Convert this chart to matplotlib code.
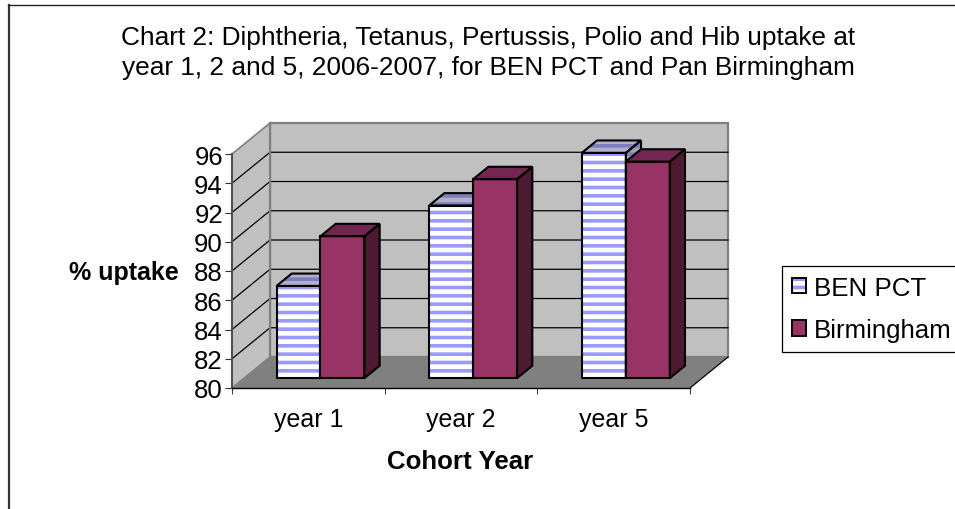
import matplotlib
matplotlib.use('Agg')
import matplotlib.pyplot as plt
from matplotlib.legend_handler import HandlerTuple
from matplotlib.lines import Line2D
from matplotlib.patches import Patch, Polygon

plt.rcParams['font.family'] = ['Liberation Sans', 'DejaVu Sans']
plt.rcParams['hatch.linewidth'] = 2.6

title = 'Chart 2: Diphtheria, Tetanus, Pertussis, Polio and Hib uptake at\nyear 1, 2 and 5, 2006-2007, for BEN PCT and Pan Birmingham'
years = ['year 1', 'year 2', 'year 5']
ben_pct = [86.3, 91.8, 95.4]
birmingham = [89.7, 93.6, 94.8]
y_ticks = [80, 82, 84, 86, 88, 90, 92, 94, 96]

W, H = 955, 510
fig = plt.figure(figsize=(W / 100, H / 100), dpi=100)
# axes = front plane of the fake 3d box, in pixels of the reference
ax = fig.add_axes([232 / W, 1 - 389 / H, 458 / W, 234 / H])
ax.set_xlim(0, 3)
ax.set_ylim(80, 96)
ax.patch.set_visible(False)

# depth of the box, in data units
depth_x = 38 / 152.67
depth_y = 31 / 14.63
# bars sit a bit behind the front plane
off_x = 0.32 * depth_x
off_y = 0.32 * depth_y
bar_dx = 0.40 * depth_x
bar_dy = 0.40 * depth_y
bar_w = 0.288

ymin, ymax = y_ticks[0], y_ticks[-1]
ax.add_patch(Polygon([(depth_x, ymin + depth_y), (3 + depth_x, ymin + depth_y),
                      (3 + depth_x, ymax + depth_y), (depth_x, ymax + depth_y)],
                     fc='#C0C0C0', ec='#808080', lw=1.6, clip_on=False, zorder=1))
ax.add_patch(Polygon([(0, ymin), (0, ymax), (depth_x, ymax + depth_y), (depth_x, ymin + depth_y)],
                     fc='#C0C0C0', ec='#808080', lw=1.2, clip_on=False, zorder=1))
ax.add_patch(Polygon([(0, ymin), (3, ymin), (3 + depth_x, ymin + depth_y), (depth_x, ymin + depth_y)],
                     fc='#808080', ec='none', clip_on=False, zorder=1.5))
ax.plot([3, 3 + depth_x], [ymin, ymin + depth_y], color='black', lw=0.9, clip_on=False, zorder=1.6)

# gridlines: back wall and side wall
for v in y_ticks[1:-1]:
    ax.plot([0, depth_x, 3 + depth_x], [v, v + depth_y, v + depth_y], color='black', lw=0.9,
            clip_on=False, zorder=1.2)
ax.plot([depth_x, depth_x], [ymin + depth_y, ymax + depth_y], color='#808080', lw=1.6,
        clip_on=False, zorder=1.3)


def draw_bar(x, v, z, face, top, side, hatch_col=None, top_hatch=None):
    # x is the left edge of the front face
    base = ymin + off_y
    vtop = v + off_y
    if hatch_col:
        ax.bar(x, v - ymin, bar_w, bottom=base, align='edge', facecolor=face, edgecolor=hatch_col,
               hatch='--', linewidth=0, clip_on=False, zorder=z)
    else:
        ax.bar(x, v - ymin, bar_w, bottom=base, align='edge', facecolor=face, linewidth=0,
               clip_on=False, zorder=z)
    ax.bar(x, v - ymin, bar_w, bottom=base, align='edge', fill=False, edgecolor='black',
           linewidth=1.5, clip_on=False, zorder=z + 0.1)
    top_pts = [(x, vtop), (x + bar_w, vtop), (x + bar_w + bar_dx, vtop + bar_dy), (x + bar_dx, vtop + bar_dy)]
    side_pts = [(x + bar_w, base), (x + bar_w + bar_dx, base + bar_dy),
                (x + bar_w + bar_dx, vtop + bar_dy), (x + bar_w, vtop)]
    for pts, col in ((top_pts, top), (side_pts, side)):
        if top_hatch:
            ax.add_patch(Polygon(pts, fc=col, ec=top_hatch, hatch='--', lw=0, clip_on=False, zorder=z))
        else:
            ax.add_patch(Polygon(pts, fc=col, lw=0, clip_on=False, zorder=z))
        ax.add_patch(Polygon(pts, fill=False, ec='black', lw=1.5, clip_on=False, zorder=z + 0.1))


for i in range(len(years)):
    left = i + 0.5 + off_x - bar_w
    draw_bar(left, ben_pct[i], 3, 'white', '#B0B0C8', '#A0A0B8', hatch_col='#9999FF', top_hatch='#7C7CC0')
    draw_bar(left + bar_w, birmingham[i], 3.2, '#993366', '#732650', '#4D1933')

for s in ['top', 'right']:
    ax.spines[s].set_visible(False)
ax.spines['left'].set_color('#505050')
ax.spines['left'].set_linewidth(1.5)
ax.spines['bottom'].set_color('black')
ax.spines['bottom'].set_linewidth(1.0)
ax.spines['left'].set_zorder(5)
ax.spines['bottom'].set_zorder(5)

ax.set_yticks(y_ticks)
ax.set_xticks([0, 1, 2, 3])
ax.set_xticklabels([])
ax.set_xticks([0.5, 1.5, 2.5], minor=True)
ax.set_xticklabels(years, minor=True, fontsize=18)
ax.tick_params(axis='x', which='major', length=4.5, width=0.8, color='#404040')
ax.tick_params(axis='x', which='minor', length=0, pad=14)
ax.tick_params(axis='y', length=5, width=0.8, color='#303030', labelsize=18.5, pad=1.5)

fig.text(69 / W, 1 - 273 / H, '% uptake', fontsize=18, fontweight='bold', ha='left', va='center')
fig.text(460 / W, 1 - 462 / H, 'Cohort Year', fontsize=18.6, fontweight='bold', ha='center', va='center')
fig.text(488 / W, 1 - 53 / H, title, fontsize=18.9, ha='center', va='center', linespacing=1.32)

ben_handle = (Patch(facecolor='white', edgecolor='#9999FF', hatch='--', linewidth=0),
              Patch(fill=False, edgecolor='black', linewidth=1.4))
birm_handle = Patch(facecolor='#993366', edgecolor='black', linewidth=1.4)
leg = fig.legend([ben_handle, birm_handle], ['BEN PCT', 'Birmingham'], loc='upper left',
                 bbox_to_anchor=(782 / W, 1 - 267 / H), frameon=True, fancybox=False,
                 edgecolor='black', framealpha=1, fontsize=18.6, handlelength=0.55, handleheight=0.55,
                 handletextpad=0.32, labelspacing=0.72, borderpad=0.38, borderaxespad=0,
                 handler_map={tuple: HandlerTuple(ndivide=1, pad=0)})
leg.get_frame().set_linewidth(0.9)

# outer frame of the chart area
fig.add_artist(Line2D([8.5 / W, 8.5 / W], [0, 1 - 5.5 / H], color='#333333', lw=1.6))
fig.add_artist(Line2D([8 / W, 1], [1 - 5.5 / H, 1 - 5.5 / H], color='#222222', lw=1.0))

fig.savefig('out.png', dpi=100)
